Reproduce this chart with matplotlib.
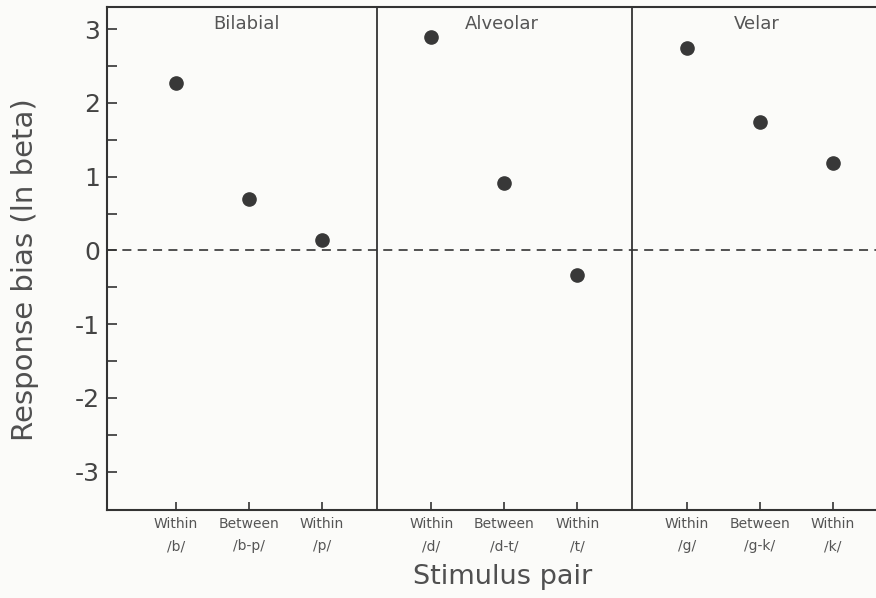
import matplotlib
matplotlib.use("Agg")
import matplotlib.pyplot as plt
from matplotlib.ticker import FixedLocator

# ---- data ----
groups = ["Bilabial", "Alveolar", "Velar"]
pair_types = ["Within", "Between", "Within"]
pair_labels = [["/b/", "/b-p/", "/p/"],
               ["/d/", "/d-t/", "/t/"],
               ["/g/", "/g-k/", "/k/"]]
bias_bilabial = [2.27, 0.70, 0.14]
bias_alveolar = [2.90, 0.92, -0.33]
bias_velar = [2.75, 1.74, 1.18]
values = [bias_bilabial, bias_alveolar, bias_velar]
yticks = [-3, -2, -1, 0, 1, 2, 3]
yminor = [-2.5, -1.5, -0.5, 0.5, 1.5, 2.5]

# ---- layout ----
group_step = 3.5
ink = "#333333"
fig = plt.figure(figsize=(8.76, 5.98), dpi=100, facecolor="#fbfbf9")
ax = fig.add_axes([107/876, 1-510/598, 1-107/876, 503/598])
ax.set_facecolor("#fbfbf9")

xs, labels = [], []
for g, (name, vals, plabs) in enumerate(zip(groups, values, pair_labels)):
    gx = [g*group_step + i for i in range(len(vals))]
    ax.plot(gx, vals, "o", color="#383838", markersize=9.5, zorder=3)
    ax.text(sum(gx)/len(gx) - 0.04, 0.967, name, transform=ax.get_xaxis_transform(),
            ha="center", va="center", fontsize=13, color="#555555")
    xs += gx
    labels += [f"{t}\n{p}" for t, p in zip(pair_types, plabs)]
    if g > 0:
        ax.axvline(g*group_step - 0.75, color=ink, lw=1.3, zorder=2)

ax.axhline(0, color="#444444", lw=1.3, dashes=(5, 3.5), zorder=1)

ax.set_xlim(-0.945, 9.59)
ax.set_ylim(-3.52, 3.30)
ax.set_xticks(xs)
ax.set_xticklabels(labels, fontsize=10, color="#555555", linespacing=1.75)
ax.set_yticks(yticks)
ax.set_yticklabels([str(v) for v in yticks], fontsize=18, color="#444444")
ax.yaxis.set_minor_locator(FixedLocator(yminor))
ax.tick_params(axis="y", which="both", direction="in", length=7, width=1.2,
               color=ink, pad=5)
ax.tick_params(axis="x", direction="in", length=6, width=1.2, color=ink, pad=5)

for s in ["left", "bottom", "top"]:
    ax.spines[s].set_color(ink)
    ax.spines[s].set_linewidth(1.5)
ax.spines["right"].set_visible(False)

fig.text(25/876, 1-270/598, "Response bias (ln beta)", rotation=90,
         ha="center", va="center", fontsize=21, color="#505050")
fig.text(503/876, 1-577/598, "Stimulus pair", ha="center", va="center",
         fontsize=19.5, color="#505050")

fig.savefig("out.png", dpi=100, facecolor=fig.get_facecolor())
